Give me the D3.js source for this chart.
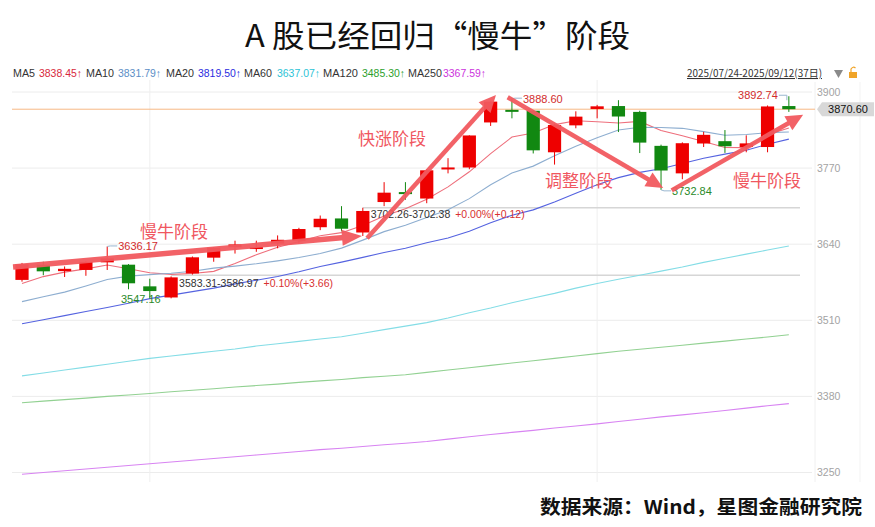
<!DOCTYPE html>
<html><head><meta charset="utf-8">
<script src="https://cdn.jsdelivr.net/npm/d3@7"></script>
<style>body{margin:0;background:#fff;} svg{display:block;}</style>
</head><body>
<svg id="chart" width="875" height="527"></svg>
<script>
// ---------------- data ----------------
const dates = ["2025-07-24","2025-07-25","2025-07-28","2025-07-29","2025-07-30","2025-07-31","2025-08-01","2025-08-04","2025-08-05","2025-08-06","2025-08-07","2025-08-08","2025-08-11","2025-08-12","2025-08-13","2025-08-14","2025-08-15","2025-08-18","2025-08-19","2025-08-20","2025-08-21","2025-08-22","2025-08-25","2025-08-26","2025-08-27","2025-08-28","2025-08-29","2025-09-01","2025-09-02","2025-09-03","2025-09-04","2025-09-05","2025-09-08","2025-09-09","2025-09-10","2025-09-11","2025-09-12"];
const open  = [3579,3605,3594,3596,3609,3605,3568,3549,3590,3617,3635,3634,3641,3646,3669,3684,3660,3712,3729,3718,3769,3771,3848,3869.5,3868,3797,3843,3871,3876,3866,3808,3761,3812,3816,3806,3806,3876];
const high  = [3608,3610,3602,3611,3636.17,3606,3581,3585,3619,3635,3646,3646,3655,3668,3689,3705,3702.26,3746,3746,3768,3787,3826,3883.6,3888.60,3869,3846,3867,3878,3886,3868,3810,3814,3832,3835,3826,3877,3892.74];
const low   = [3576,3587,3584,3586,3596,3563,3547.16,3547.5,3588,3610,3624,3627,3633,3641,3664,3662,3654,3705,3716,3710,3761,3768,3842,3855,3795,3776,3838,3855,3831.6,3795.7,3732.84,3751,3806,3796,3797,3797,3866];
const close = [3605.73,3593.66,3597.94,3609.71,3615.72,3573.21,3559.95,3583.31,3617.60,3633.99,3639.67,3635.13,3647.55,3665.92,3683.46,3666.44,3696.77,3728.03,3727.29,3766.21,3771.10,3825.76,3883.56,3868.38,3800.35,3843.60,3857.93,3875.53,3858.13,3813.56,3765.88,3812.51,3826.84,3807.29,3812.22,3875.31,3870.60];

const ma5   = [3572.83,3584.67,3592.30,3597.87,3604.55,3598.05,3591.31,3588.38,3589.96,3593.61,3606.90,3621.94,3634.79,3644.45,3654.35,3659.70,3672.03,3688.12,3700.40,3716.95,3737.88,3763.68,3794.78,3823.00,3829.83,3844.33,3850.76,3849.16,3847.11,3849.75,3834.21,3825.12,3815.38,3805.22,3804.95,3826.83,3838.45];
const ma10  = [3541.96,3550.31,3558.14,3568.61,3579.80,3585.44,3587.99,3590.34,3593.91,3599.08,3602.48,3606.62,3611.58,3617.21,3623.98,3633.30,3646.98,3661.46,3672.43,3685.65,3698.79,3717.85,3741.45,3761.70,3773.39,3791.11,3807.22,3821.97,3835.06,3839.79,3839.27,3837.94,3832.27,3826.16,3827.35,3830.52,3831.79];
const ma20  = [3504,3511,3518,3525,3532,3539,3547,3553,3559,3565,3572.22,3578.47,3584.86,3592.91,3601.89,3609.37,3617.49,3625.90,3633.17,3642.36,3650.63,3662.24,3676.52,3689.45,3698.68,3712.20,3727.10,3741.71,3753.74,3762.72,3769.03,3777.90,3786.86,3793.93,3800.37,3810.81,3819.50];
const ma60  = [3415,3420,3425,3430,3435,3440,3445,3449,3453,3457,3461,3466,3470,3474,3478,3482,3488,3494,3500,3506,3514,3523,3531,3540,3548,3556,3565,3573,3580,3587,3594,3601,3609,3616,3623,3630,3637.07];
const ma120 = [3369.2,3372,3374.5,3377,3380,3382.5,3385,3388,3390.5,3393,3396,3398.5,3401,3404,3406.5,3409,3412,3414.5,3417,3421,3425,3429,3433,3437,3441,3445,3449,3453,3457,3460.5,3464,3467.5,3471,3474.5,3478,3481.5,3485.30];
const ma250 = [3247,3250,3253,3256,3259,3262,3265,3268,3271,3274,3277,3280,3283,3286,3289,3291.5,3294.5,3297.5,3300,3303,3307,3311,3315,3318.5,3322,3326,3329.5,3333,3337,3341,3345,3348.5,3352,3356,3360,3364,3367.59];

const maNames = ["MA5","MA10","MA20","MA60","MA120","MA250"];
const yTicks = [3250,3380,3510,3640,3770,3900];
const lastPrice = 3870.60;
const rangeText = "2025/07/24-2025/09/12(37日)";
// phase annotations: [startIndex, startValue, endIndex, endValue]
const arrowsData = [[-0.42,3601,15.96,3654],[16.2,3650,22.25,3895],[22.8,3891,30.1,3736],[30.5,3732,36.67,3861]];
const phaseLabels = ["慢牛阶段","快涨阶段","调整阶段","慢牛阶段"];
const phaseAnchors = [[5.54,3651],[15.77,3809],[24.55,3737.5],[33.38,3737.5]];
const measureTexts = [["3583.31-3586.97","+0.10%(+3.66)"],["3702.26-3702.38","+0.00%(+0.12)"]];
const measureIdx = [7,16];
const measureLevel = [3586.97,3702.38];

// ---------------- scales ----------------
const svg = d3.select("#chart");
const x = d3.scaleBand().domain(dates).range([11.35, 799.5]).paddingInner(0.38).paddingOuter(0.19);
const step = x.step();
const cx = d => x(d) + x.bandwidth()/2;
const cxi = i => cx(dates[0]) + i*step;
const y = d3.scaleLinear().domain([3250,3900]).range([472.5,92]);

const cjk = "'Noto Sans CJK SC','Noto Sans',sans-serif";
const latin = "'Liberation Sans','Noto Sans',Arial,sans-serif";

// ---------------- grid ----------------
const g = svg.append("g");
g.selectAll("line.hg").data(yTicks).join("line")
  .attr("x1",12).attr("x2",812).attr("y1",d=>y(d)).attr("y2",d=>y(d))
  .attr("stroke","#ececec").attr("stroke-width",1);
const monthStarts = dates.filter((d,i)=> i>0 && d.slice(5,7)!==dates[i-1].slice(5,7));
g.selectAll("line.vg").data(monthStarts).join("line")
  .attr("x1",d=>cx(d)).attr("x2",d=>cx(d)).attr("y1",80).attr("y2",482)
  .attr("stroke","#efefef").attr("stroke-width",1);
g.append("line").attr("x1",815).attr("x2",815).attr("y1",82).attr("y2",482).attr("stroke","#f0f0f0");
g.append("line").attr("x1",860).attr("x2",860).attr("y1",82).attr("y2",482).attr("stroke","#f3f3f3");

// measure lines
measureIdx.forEach((mi,k)=>{
  g.append("line").attr("x1",cx(dates[mi])).attr("x2",800)
    .attr("y1",y(measureLevel[k])).attr("y2",y(measureLevel[k]))
    .attr("stroke","#d6d6d6").attr("stroke-width",1.6);
});

// y axis
const yAxis = d3.axisRight(y).tickValues(yTicks).tickSize(0).tickPadding(2).tickFormat(d3.format("d"));
const ax = svg.append("g").attr("transform","translate(815,0)").call(yAxis);
ax.select(".domain").remove();
ax.selectAll("text").attr("fill","#a3a3a3").style("font-family",latin).style("font-size","10.5px");

// last price line
g.append("line").attr("x1",12).attr("x2",815).attr("y1",y(lastPrice)).attr("y2",y(lastPrice))
  .attr("stroke","#f7b884").attr("stroke-width",1);
svg.append("path").attr("d",`M817,${y(lastPrice)} L822,${y(lastPrice)-7} L874,${y(lastPrice)-7} L874,${y(lastPrice)+7} L822,${y(lastPrice)+7} Z`)
  .attr("fill","#d8d8d8");
svg.append("text").attr("x",848).attr("y",y(lastPrice)+4).attr("text-anchor","middle")
  .style("font-family",latin).style("font-size","11px").attr("fill","#111").text(lastPrice.toFixed(2));

// ---------------- MA lines ----------------
const maSeries = [ma5,ma10,ma20,ma60,ma120,ma250];
const maLineColors = ["#ee6f7c","#8eaed0","#5563e0","#84dde6","#92d192","#d884f2"];
const maTextColors = ["#d8283c","#5b8ec6","#2b2be0","#2cc3d6","#2ca02c","#cc33dd"];
const line = d3.line().x((v,i)=>cx(dates[i])).y(v=>y(v));
const lg = svg.append("g");
maSeries.forEach((s,k)=>{
  lg.append("path").attr("d",line(s)).attr("fill","none").attr("stroke",maLineColors[k]).attr("stroke-width",1.1);
});

// ---------------- candles ----------------
const candles = dates.map((d,i)=>({d,o:open[i],h:high[i],l:low[i],c:close[i]}));
const up = "#ee0000", down = "#118811";
const cg = svg.append("g");
cg.selectAll("line.w").data(candles).join("line")
  .attr("x1",d=>cx(d.d)).attr("x2",d=>cx(d.d)).attr("y1",d=>y(d.h)).attr("y2",d=>y(d.l))
  .attr("stroke",d=>d.c>=d.o?up:down).attr("stroke-width",1);
cg.selectAll("rect").data(candles).join("rect")
  .attr("x",d=>x(d.d)).attr("width",x.bandwidth())
  .attr("y",d=>y(Math.max(d.o,d.c)))
  .attr("height",d=>Math.max(2,Math.abs(y(d.o)-y(d.c))))
  .attr("fill",d=>d.c>=d.o?up:down);

// ---------------- extreme labels ----------------
const lead = "#9ab7d0";
function hiLabel(i, side){
  const px = cx(dates[i]), py = y(high[i]);
  const txt = high[i].toFixed(2);
  if(side>0){
    svg.append("path").attr("d",`M${px},${py} L${px+3},${py-0.5} L${px+10},${py-0.5}`).attr("stroke",lead).attr("fill","none");
    svg.append("text").attr("x",px+11).attr("y",py+4).attr("fill","#d22c2c")
      .style("font-family",latin).style("font-size","11px").text(txt);
  } else {
    svg.append("path").attr("d",`M${px-2},${py+4} L${px-2},${py-1} L${px-10},${py-1}`).attr("stroke",lead).attr("fill","none");
    svg.append("text").attr("x",px-11).attr("y",py+3).attr("text-anchor","end").attr("fill","#d22c2c")
      .style("font-family",latin).style("font-size","11px").text(txt);
  }
}
hiLabel(4,1); hiLabel(23,1); hiLabel(36,-1);
function loLabel(i, mode){
  const px = cx(dates[i]), py = y(low[i]);
  const txt = low[i].toFixed(2);
  if(mode>0){
    svg.append("path").attr("d",`M${px},${py} L${px+3},${py+1} L${px+10},${py+1}`).attr("stroke",lead).attr("fill","none");
    svg.append("text").attr("x",px+11).attr("y",py+5).attr("fill","#2a8a2a")
      .style("font-family",latin).style("font-size","11px").text(txt);
  } else {
    svg.append("text").attr("x",px-9).attr("y",py+4.5).attr("text-anchor","middle").attr("fill","#2a8a2a")
      .style("font-family",latin).style("font-size","11px").text(txt);
  }
}
loLabel(6,-1); loLabel(30,1);

// measure texts
measureIdx.forEach((mi,k)=>{
  const t = svg.append("text").attr("x",cx(dates[mi])+8).attr("y",y(measureLevel[k])+(k===0?12:10.5))
    .style("font-family",latin).style("font-size","10.5px");
  t.append("tspan").attr("fill","#333").text(measureTexts[k][0]);
  t.append("tspan").attr("fill","#d83030").attr("dx",5).text(measureTexts[k][1]);
});

// ---------------- arrows ----------------
const arrowColor = "#f25a5f";
const ag = svg.append("g").attr("opacity",0.95);
arrowsData.forEach((a,k)=>{
  const x1=cxi(a[0]), y1=y(a[1]), x2=cxi(a[2]), y2=y(a[3]);
  const ang = Math.atan2(y2-y1,x2-x1);
  const hl = k===0?20:17, hw = 8;
  const bx = x2 - hl*Math.cos(ang), by = y2 - hl*Math.sin(ang);
  const nx = -Math.sin(ang), ny = Math.cos(ang);
  ag.append("line").attr("x1",x1).attr("y1",y1).attr("x2",bx+ 2*Math.cos(ang)).attr("y2",by+2*Math.sin(ang))
    .attr("stroke",arrowColor).attr("stroke-width",k===0?5.5:4.5).attr("stroke-linecap","butt");
  ag.append("path").attr("d",`M${x2},${y2} L${bx+nx*hw},${by+ny*hw} L${bx-nx*hw},${by-ny*hw} Z`).attr("fill",arrowColor);
});
phaseLabels.forEach((t,k)=>{
  svg.append("text").attr("x",cxi(phaseAnchors[k][0])).attr("y",y(phaseAnchors[k][1]))
    .attr("fill","#f0575f").style("font-family",cjk).style("font-size","17px").text(t);
});

// ---------------- legend ----------------
const nameX = [13,86,166,244,323,408], valX = [39,118,198,277,362,443];
const nameW = [22,28,28,28,35,34];
maNames.forEach((n,k)=>{
  svg.append("text").attr("x",nameX[k]).attr("y",77).attr("fill","#333")
    .attr("textLength",nameW[k]).attr("lengthAdjust","spacingAndGlyphs")
    .style("font-family",latin).style("font-size","11px").text(n);
  const s = maSeries[k];
  svg.append("text").attr("x",valX[k]).attr("y",77).attr("fill",maTextColors[k])
    .attr("textLength",43).attr("lengthAdjust","spacingAndGlyphs")
    .style("font-family",latin).style("font-size","11px").text(s[s.length-1].toFixed(2)+"↑");
});
svg.append("text").attr("x",687).attr("y",77).attr("fill","#333").attr("text-decoration","underline")
  .style("font-family",cjk).style("font-size","10.5px").attr("textLength",135).attr("lengthAdjust","spacingAndGlyphs").text(rangeText);
svg.append("path").attr("d","M834,70 L843,70 L838.5,78 Z").attr("fill","#8a8a8a");
svg.append("rect").attr("x",849).attr("y",72).attr("width",8).attr("height",6).attr("fill","#f0a428");
svg.append("path").attr("d","M851,72 L851,69 Q853,66 855.5,68").attr("fill","none").attr("stroke","#f0a428").attr("stroke-width",1.2);

// ---------------- title & source ----------------
svg.append("text").attr("x",245).attr("y",47).attr("textLength",385).attr("lengthAdjust","spacingAndGlyphs")
  .attr("fill","#111").style("font-family",cjk).style("font-size","31px").style("font-weight","400")
  .text("A 股已经回归“慢牛”阶段");
svg.append("text").attr("x",540).attr("y",514).attr("textLength",322).attr("lengthAdjust","spacingAndGlyphs")
  .attr("fill","#111").style("font-family",cjk).style("font-size","19px").style("font-weight","700")
  .text("数据来源：Wind，星图金融研究院");
</script>
</body></html>
